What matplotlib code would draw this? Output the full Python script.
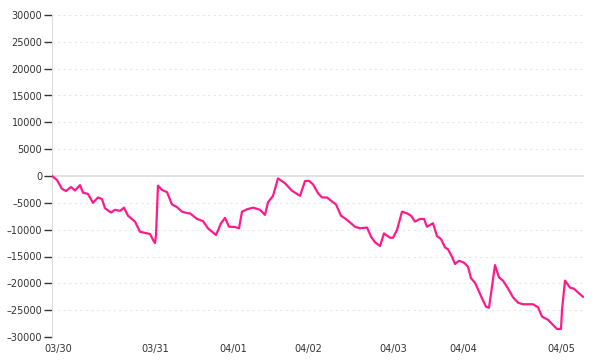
import matplotlib
matplotlib.use('Agg')
import matplotlib.pyplot as plt

# bar position (session index) and cumulative value
t = [0, 5, 10, 14, 19, 23, 28, 31, 36, 41, 46, 50, 53, 59, 63, 68, 72, 76, 83, 88,
     93, 98, 101, 103, 104, 106, 110, 115, 120, 125, 130, 136, 138, 145, 151, 156,
     164, 169, 173, 177, 183, 187, 190, 195, 201, 208, 213, 216, 221, 226, 233, 240,
     248, 253, 257, 261, 266, 270, 275, 281, 284, 289, 293, 298, 303, 308, 315, 319,
     323, 328, 332, 338, 341, 345, 350, 355, 359, 363, 368, 372, 375, 381, 385, 389,
     393, 396, 400, 403, 407, 412, 416, 419, 423, 426, 430, 434, 437, 440, 443, 447,
     451, 456, 461, 466, 471, 481, 486, 490, 496, 501, 505, 509, 510, 513, 518, 522,
     526, 531]
values = [0, -750, -2400, -2800, -2050, -2700, -1700, -3100, -3350, -5000, -4000,
          -4300, -6000, -6800, -6300, -6500, -5900, -7400, -8500, -10400, -10600,
          -10800, -11900, -12500, -11000, -1800, -2600, -3000, -5300, -5800, -6650,
          -6950, -6950, -8000, -8400, -9750, -11000, -8800, -7800, -9450, -9500,
          -9750, -6650, -6200, -5900, -6300, -7250, -4900, -3700, -450, -1350,
          -2750, -3700, -950, -900, -1550, -3200, -4000, -4000, -4900, -5300, -7400,
          -7900, -8650, -9450, -9750, -9600, -11300, -12350, -13050, -10700, -11500,
          -11500, -10050, -6650, -6950, -7400, -8500, -8000, -8000, -9450, -8800,
          -11200, -11750, -13300, -13650, -15050, -16400, -15800, -16150, -16900,
          -19050, -19900, -21100, -22800, -24350, -24550, -20600, -16600, -18900,
          -19500, -20950, -22600, -23600, -23900, -23900, -24450, -26200, -26800,
          -27750, -28500, -28500, -25000, -19500, -20800, -21000, -21700, -22500]

tick_pos = [6, 103, 181, 256, 341, 411, 509]
tick_labels = ['03/30', '03/31', '04/01', '04/02', '04/03', '04/04', '04/05']
y_ticks = list(range(-30000, 30001, 5000))

fig = plt.figure(figsize=(6, 3.6), dpi=100)
ax = fig.add_axes([52 / 600, 23 / 360, 532 / 600, 322 / 360])

for y in y_ticks:
    if y == 0:
        ax.axhline(0, color='#dddddd', lw=1.2, zorder=1)
    else:
        ax.axhline(y, color='#e6e6e6', lw=0.8, ls=(0, (2, 3)), zorder=1)

ax.plot(t, values, color='#ff1a8c', lw=1.6, zorder=3)

ax.set_xlim(0, 532)
ax.set_ylim(-30000, 30000)
ax.set_yticks(y_ticks)
ax.set_yticklabels([str(y).replace('-', '\u2013') for y in y_ticks])
ax.set_xticks(tick_pos)
ax.set_xticklabels(tick_labels)

for s in ['top', 'right', 'bottom']:
    ax.spines[s].set_visible(False)
ax.spines['left'].set_color('#dddddd')
ax.tick_params(axis='y', length=6, width=1, color='#333333', labelsize=7,
               labelcolor='#333333', pad=1)
ax.tick_params(axis='x', length=0, labelsize=7, labelcolor='#333333', pad=5)

fig.savefig('out.png', dpi=100)
